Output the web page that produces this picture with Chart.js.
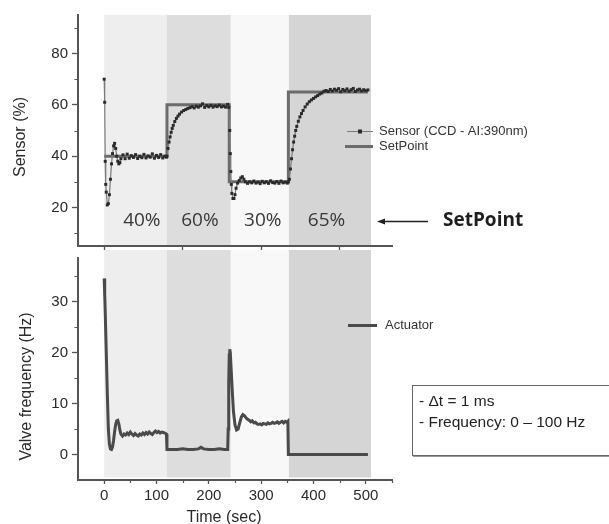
<!DOCTYPE html>
<html><head><meta charset="utf-8">
<script src="https://cdn.jsdelivr.net/npm/chart.js@4.4.1/dist/chart.umd.min.js"></script>
<style>
html,body{margin:0;padding:0;background:#fff;overflow:hidden}
#wrap{position:relative;width:609px;height:524px;background:#fff}
canvas{position:absolute;left:0}
#c1{top:0}
#c2{top:250px}
</style></head><body>
<div id="wrap"><canvas id="c1" width="609" height="250"></canvas><canvas id="c2" width="609" height="274"></canvas></div>
<script>
// ---------- data ----------
const sensorTime = [0,1,2,3,4,6,8,10,12,14,16,18,20,22,24,26,28,30,32,36,40,44,48,52,56,60,64,68,72,76,80,84,88,92,96,100,104,108,112,116,119,
120,122,124,126,128,130,132,135,138,141,144,148,152,156,160,164,168,172,176,180,184,188,192,196,200,204,208,212,216,220,224,228,232,236,238,
240,241,242,243,244,246,248,250,252,255,258,261,264,267,270,274,278,282,286,290,294,298,302,306,310,314,318,322,326,330,334,338,342,346,350,352,
354,356,358,360,362,364,366,368,371,374,377,380,384,388,392,396,400,404,408,412,416,420,424,428,432,436,440,444,448,452,456,460,464,468,472,476,480,484,488,492,496,500,504];
const sensorValue = [70,61,38,29,26,21,21.5,25,31,37,41,44,45,43,40,38,37,37.5,39,40.5,39,40.8,39.2,40.2,39.5,40.6,39.1,40,39.4,40.7,39.3,40.1,39.6,40.9,39.2,40.3,39.5,40.6,39.3,40,39.6,
40,43,45.5,47.5,49.3,50.8,52,53.5,54.7,55.6,56.4,57.2,57.8,58.2,58.6,58.9,59.3,58.8,59.5,59.1,59.6,60.4,59,59.7,59.2,59.8,59.1,59.6,59.3,59.9,59.2,59.5,59.1,60.2,59,
50,41,34,29,25.5,23.5,23.5,25,27.5,29.5,30.5,31.5,32,31,30,29.4,30,29.6,30.3,29.5,29.9,29.3,30.2,29.6,30,29.4,30.4,29.7,29.5,30.1,29.4,30.3,29.6,29.9,29.5,30,
31,35,39,42.5,45.5,47.8,50,51.6,53.6,55.3,56.6,57.8,59.2,60.3,61.2,61.9,62.5,63.1,63.6,64.2,64.6,65.3,65.6,65.2,66,65.4,66.1,65.7,66.3,65.1,66,65.5,66.2,65.3,65.9,66.4,65.2,65.8,66.1,65.4,65.9,65.5,65.8];

const setTime = [0,120,120,239,239,352,352,504];
const setValue = [40,40,60,60,30,30,65,65];

const actTime = [0,1,2,4,6,8,10,12,14,16,18,20,22,24,26,28,30,32,35,38,41,44,47,50,53,56,59,62,65,68,71,74,77,80,83,86,89,92,95,98,101,104,107,110,113,116,119,
120,130,140,150,160,170,180,185,190,200,210,220,230,236,237,238,239,240,241,243,245,247,250,253,
256,259,262,265,268,271,274,277,280,283,286,289,292,295,298,301,304,307,310,313,316,319,322,325,328,331,334,337,340,343,346,349,351,352,504];
const actValue = [34.5,31.5,28,20,12,5,2,1.1,1.0,1.5,2.8,4.5,5.9,6.6,6.7,6.0,4.8,4.0,3.6,4.0,3.8,4.2,3.9,4.4,4.0,3.7,4.1,3.8,3.6,4.0,3.8,4.2,3.9,4.3,4.0,4.4,4.1,3.9,4.3,4.6,4.3,4.5,4.2,4.4,4.3,4.2,4.0,
1,1.0,1.0,1.1,1.0,1.0,1.1,1.4,1.1,1.0,1.0,1.1,1.0,1.0,5,14,19.5,20.6,20,16,12,8.5,5.8,4.8,
5.0,6.2,7.3,7.8,7.6,7.2,6.9,6.7,6.4,6.6,6.2,6.3,6.0,5.9,6.0,5.8,6.1,6.0,5.9,6.2,6.0,6.1,6.3,6.1,6.2,6.4,6.1,6.3,6.5,6.2,6.5,6.3,6.5,0,0];

const phaseStart = [0,120,242,353];
const phaseEnd = [120,242,353,510];
const phaseLabel = ['40%','60%','30%','65%'];
const phaseLabelTime = [72,183,303,425];
const phaseLabelLevel = 15;

const xTicksTop = [0,150,300,450];
const xTicksBottom = [0,100,200,300,400,500];
const xMinorBottom = [50,150,250,350,450,550];
const yTicksTop = [20,40,60,80];
const yMinorTop = [10,30,50,70,90];
const yTicksBottom = [0,10,20,30];
const yMinorBottom = [5,15,25,35];

// ---------- styles ----------
const phaseShade = ['#eeeeee','#dddddd','#f8f8f8','#d5d5d5'];
const AXIS = '#555555';
const FONT = '"Liberation Sans", Arial, sans-serif';
Chart.defaults.font.family = FONT;
Chart.defaults.color = '#2a2a2a';

function pts(t, v){ return t.map((x,i)=>({x:x, y:v[i]})); }

function shadePlugin(fromCanvasTop, bottomInset){
  return {id:'shade', beforeDraw(chart){
    const {ctx, chartArea:a, scales:{x}} = chart;
    ctx.save();
    const top = fromCanvasTop ? 0 : a.top;
    for (let i=0;i<phaseStart.length;i++){
      const x0 = x.getPixelForValue(phaseStart[i]), x1 = x.getPixelForValue(phaseEnd[i]);
      ctx.fillStyle = phaseShade[i];
      ctx.fillRect(x0, top, x1-x0, a.bottom - bottomInset - top);
    }
    ctx.restore();
  }};
}
function minorTicks(yMinor, xMinor){
  return {id:'minor', afterDraw(chart){
    const {ctx, chartArea:a, scales:{x,y}} = chart;
    ctx.save(); ctx.strokeStyle = AXIS; ctx.lineWidth = 1.2;
    ctx.beginPath();
    yMinor.forEach(v=>{ const p = Math.round(y.getPixelForValue(v))+0.5; ctx.moveTo(a.left-3.5,p); ctx.lineTo(a.left,p); });
    xMinor.forEach(v=>{ const p = Math.round(x.getPixelForValue(v))+0.5; ctx.moveTo(p,a.bottom); ctx.lineTo(p,a.bottom+3); });
    ctx.stroke(); ctx.restore();
  }};
}
function rotText(ctx, text, x, y, font){
  ctx.save(); ctx.translate(x,y); ctx.rotate(-Math.PI/2);
  ctx.font = font; ctx.textAlign='center'; ctx.textBaseline='alphabetic'; ctx.fillStyle='#2a2a2a';
  ctx.fillText(text,0,0); ctx.restore();
}

const topOverlay = {id:'topOverlay', afterDraw(chart){
  const {ctx, scales:{x,y}} = chart;
  const ds = chart.data.datasets;
  ctx.save();
  // phase labels
  ctx.font = '500 19px "Open Sans", sans-serif'; ctx.fillStyle = '#383838';
  ctx.textAlign='center'; ctx.textBaseline='middle';
  phaseLabel.forEach((s,i)=> ctx.fillText(s, x.getPixelForValue(phaseLabelTime[i]), y.getPixelForValue(phaseLabelLevel)));
  // SetPoint annotation + arrow
  ctx.font = 'bold 19px "Open Sans", sans-serif'; ctx.fillStyle='#1e1e1e'; ctx.textAlign='left';
  ctx.fillText('SetPoint', 443, 221);
  ctx.strokeStyle='#222'; ctx.lineWidth=1.3;
  ctx.beginPath(); ctx.moveTo(428,221.5); ctx.lineTo(383,221.5); ctx.stroke();
  ctx.beginPath(); ctx.moveTo(377,221.5); ctx.lineTo(385,218.5); ctx.lineTo(385,224.5); ctx.closePath(); ctx.fillStyle='#222'; ctx.fill();
  // legend
  ctx.font = '13px '+FONT; ctx.fillStyle='#333'; ctx.textBaseline='middle';
  ctx.strokeStyle = ds[0].borderColor; ctx.lineWidth = 1;
  ctx.beginPath(); ctx.moveTo(347,131.5); ctx.lineTo(373,131.5); ctx.stroke();
  ctx.fillStyle = ds[0].pointBackgroundColor; ctx.fillRect(358,129.5,4,4);
  ctx.fillStyle='#333'; ctx.fillText(ds[0].label, 379, 131.5);
  ctx.strokeStyle = ds[1].borderColor; ctx.lineWidth = ds[1].borderWidth;
  ctx.beginPath(); ctx.moveTo(345,146.5); ctx.lineTo(373,146.5); ctx.stroke();
  ctx.fillText(ds[1].label, 379, 146.5);
  ctx.restore();
  rotText(ctx, 'Sensor (%)', 25, 137, '16px '+FONT);
}};

const bottomOverlay = {id:'bottomOverlay', afterDraw(chart){
  const {ctx} = chart;
  const ds = chart.data.datasets;
  ctx.save();
  ctx.strokeStyle = ds[0].borderColor; ctx.lineWidth = ds[0].borderWidth;
  ctx.beginPath(); ctx.moveTo(348,75.5); ctx.lineTo(377,75.5); ctx.stroke();
  ctx.font = '13px '+FONT; ctx.fillStyle='#333'; ctx.textBaseline='middle'; ctx.textAlign='left';
  ctx.fillText(ds[0].label, 385, 75.5);
  // info box
  ctx.strokeStyle='#666'; ctx.lineWidth=1;
  ctx.strokeRect(412.5,135.5,200,70);
  ctx.strokeStyle='#999'; ctx.beginPath(); ctx.moveTo(413,206.5); ctx.lineTo(612,206.5); ctx.stroke();
  ctx.font = '15.5px '+FONT; ctx.fillStyle='#222'; ctx.textBaseline='alphabetic';
  ctx.fillText('- \u0394t = 1 ms', 419, 156);
  ctx.fillText('- Frequency: 0 \u2013 100 Hz', 419, 177);
  // titles
  ctx.font = '16px '+FONT; ctx.fillStyle='#2a2a2a'; ctx.textAlign='center';
  ctx.fillText('Time (sec)', 224, 271.5);
  ctx.restore();
  rotText(ctx, 'Valve frequency (Hz)', 30.5, 136.5, '16px '+FONT);
}};

const baseGrid = {drawOnChartArea:false, drawTicks:true, tickColor:AXIS, tickWidth:1.3};
const border = {display:true, color:AXIS, width:2};

new Chart(document.getElementById('c1'), {
  type:'line',
  data:{datasets:[
    {label:'Sensor (CCD - AI:390nm)', data:pts(sensorTime,sensorValue), borderColor:'#7a7a7a', borderWidth:1.2,
     pointStyle:'rect', pointRadius:2.1, pointBorderWidth:0, pointBackgroundColor:'#2a2a2a', pointBorderColor:'#2a2a2a', tension:0},
    {label:'SetPoint', data:pts(setTime,setValue), borderColor:'#6c6c6c', borderWidth:3, pointRadius:0, tension:0}
  ]},
  options:{
    responsive:false, animation:false, devicePixelRatio:1,
    layout:{padding:{left:0,right:217,top:15,bottom:0}},
    plugins:{legend:{display:false}, tooltip:{enabled:false}},
    scales:{
      x:{type:'linear', min:-50, max:550,
         afterBuildTicks:s=>{s.ticks = xTicksTop.map(v=>({value:v}));},
         afterFit:s=>{s.height=4; s.paddingLeft=0; s.paddingRight=0;},
         ticks:{display:false}, grid:Object.assign({tickLength:4}, baseGrid), border:border},
      y:{type:'linear', min:5, max:95,
         afterBuildTicks:s=>{s.ticks = yTicksTop.map(v=>({value:v}));},
         afterFit:s=>{s.width=78; s.paddingTop=0; s.paddingBottom=0;},
         ticks:{font:{size:15}, color:'#2a2a2a', padding:4}, grid:Object.assign({tickLength:6}, baseGrid), border:border}
    }
  },
  plugins:[shadePlugin(false,0), minorTicks(yMinorTop, []), topOverlay]
});

new Chart(document.getElementById('c2'), {
  type:'line',
  data:{datasets:[
    {label:'Actuator', data:pts(actTime,actValue), borderColor:'#4a4a4a', borderWidth:3, pointRadius:0, tension:0}
  ]},
  options:{
    responsive:false, animation:false, devicePixelRatio:1,
    layout:{padding:{left:0,right:217,top:8,bottom:0}},
    plugins:{legend:{display:false}, tooltip:{enabled:false}},
    scales:{
      x:{type:'linear', min:-50, max:550,
         afterBuildTicks:s=>{s.ticks = xTicksBottom.map(v=>({value:v}));},
         afterFit:s=>{s.height=44; s.paddingLeft=0; s.paddingRight=0;},
         ticks:{font:{size:15}, color:'#2a2a2a', padding:3, maxRotation:0}, grid:Object.assign({tickLength:4}, baseGrid), border:border},
      y:{type:'linear', min:-5, max:38.5,
         afterBuildTicks:s=>{s.ticks = yTicksBottom.map(v=>({value:v}));},
         afterFit:s=>{s.width=78; s.paddingTop=0; s.paddingBottom=0;},
         ticks:{font:{size:15}, color:'#2a2a2a', padding:4}, grid:Object.assign({tickLength:6}, baseGrid), border:border}
    }
  },
  plugins:[shadePlugin(true,2.5), minorTicks(yMinorBottom, xMinorBottom), bottomOverlay]
});
</script>
</body></html>
